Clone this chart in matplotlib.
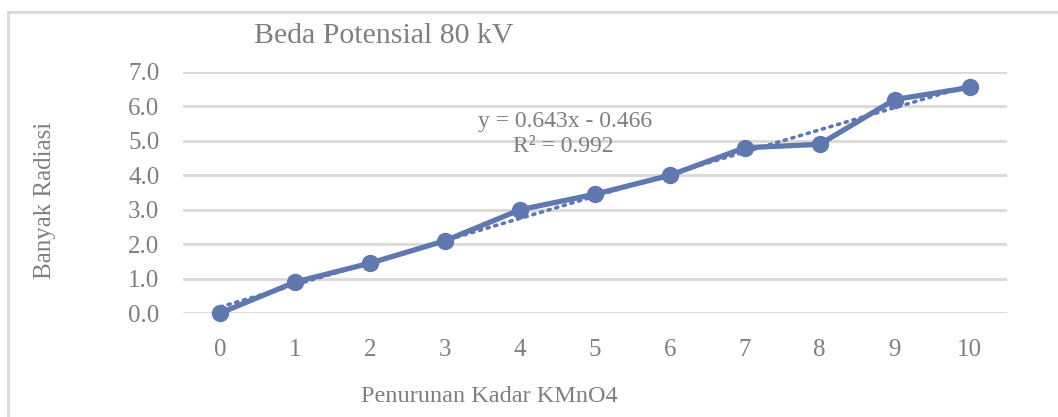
import numpy as np
import matplotlib
matplotlib.use("Agg")
import matplotlib.pyplot as plt
from matplotlib.lines import Line2D

# ----------- DATA -------------
categories = [0, 1, 2, 3, 4, 5, 6, 7, 8, 9, 10]
radiasi = [0.0, 0.9, 1.45, 2.1, 3.0, 3.45, 4.0, 4.8, 4.9, 6.2, 6.55]
y_ticks = [0.0, 1.0, 2.0, 3.0, 4.0, 5.0, 6.0, 7.0]
trend_slope = 0.643
trend_intercept = -0.466
r_squared = 0.992
# ------------------------------

blue = "#6078b0"
grey_text = "#7f7f7f"
grid_col = "#dcd8d3"

plt.rcParams['font.family'] = ['Liberation Serif', 'DejaVu Serif']

fig = plt.figure(figsize=(10.58, 4.17), dpi=100)
ax = fig.add_axes([183 / 1058, 1 - 313 / 417, 824 / 1058, 241 / 417])

x = np.arange(len(categories))
# Excel trendline uses 1-based category index
trend = [trend_slope * (i + 1) + trend_intercept for i in x]

ax.plot(x, trend, linestyle=(0, (0.6, 1.6)), color=blue, lw=2.6,
        dash_capstyle='round', zorder=2, clip_on=False)
ax.plot(x, radiasi, color=blue, lw=3.8, marker='o', markersize=11.5,
        zorder=3, clip_on=False)

ax.set_xlim(-0.5, len(categories) - 0.5)
ax.set_ylim(0, 7)
ax.set_yticks(y_ticks)
ax.set_yticklabels([f"{v:.1f}" for v in y_ticks])
ax.set_xticks(x)
ax.set_xticklabels([str(c) for c in categories])
ax.tick_params(length=0, labelsize=18, colors=grey_text)
ax.tick_params(axis='x', pad=19)
ax.tick_params(axis='y', pad=17)
for s in ax.spines.values():
    s.set_visible(False)
ax.yaxis.grid(True, color=grid_col, lw=2)
ax.set_axisbelow(True)

fig.text(384 / 1058, 1 - 36 / 417, "Beda Potensial 80 kV", ha='center',
         va='center', fontsize=21.5, color=grey_text)
fig.text(565 / 1058, 1 - 121 / 417, f"y = {trend_slope}x - {abs(trend_intercept)}",
         ha='center', va='center', fontsize=17, color=grey_text)
fig.text(563 / 1058, 1 - 146 / 417, f"R² = {r_squared}",
         ha='center', va='center', fontsize=17, color=grey_text)
fig.text(45 / 1058, 1 - 200 / 417, "Banyak Radiasi", ha='center', va='center',
         rotation=90, fontsize=18, color=grey_text)
fig.text(489 / 1058, 1 - 396 / 417, "Penurunan Kadar KMnO4", ha='center',
         va='center', fontsize=17.5, color=grey_text)

# chart frame (left and top edges visible)
fig.add_artist(Line2D([8 / 1058, 8 / 1058], [0, 1 - 12 / 417],
                      color=grid_col, lw=2, transform=fig.transFigure))
fig.add_artist(Line2D([8 / 1058, 1], [1 - 12 / 417, 1 - 12 / 417],
                      color=grid_col, lw=2, transform=fig.transFigure))

fig.savefig("out.png", dpi=100)
